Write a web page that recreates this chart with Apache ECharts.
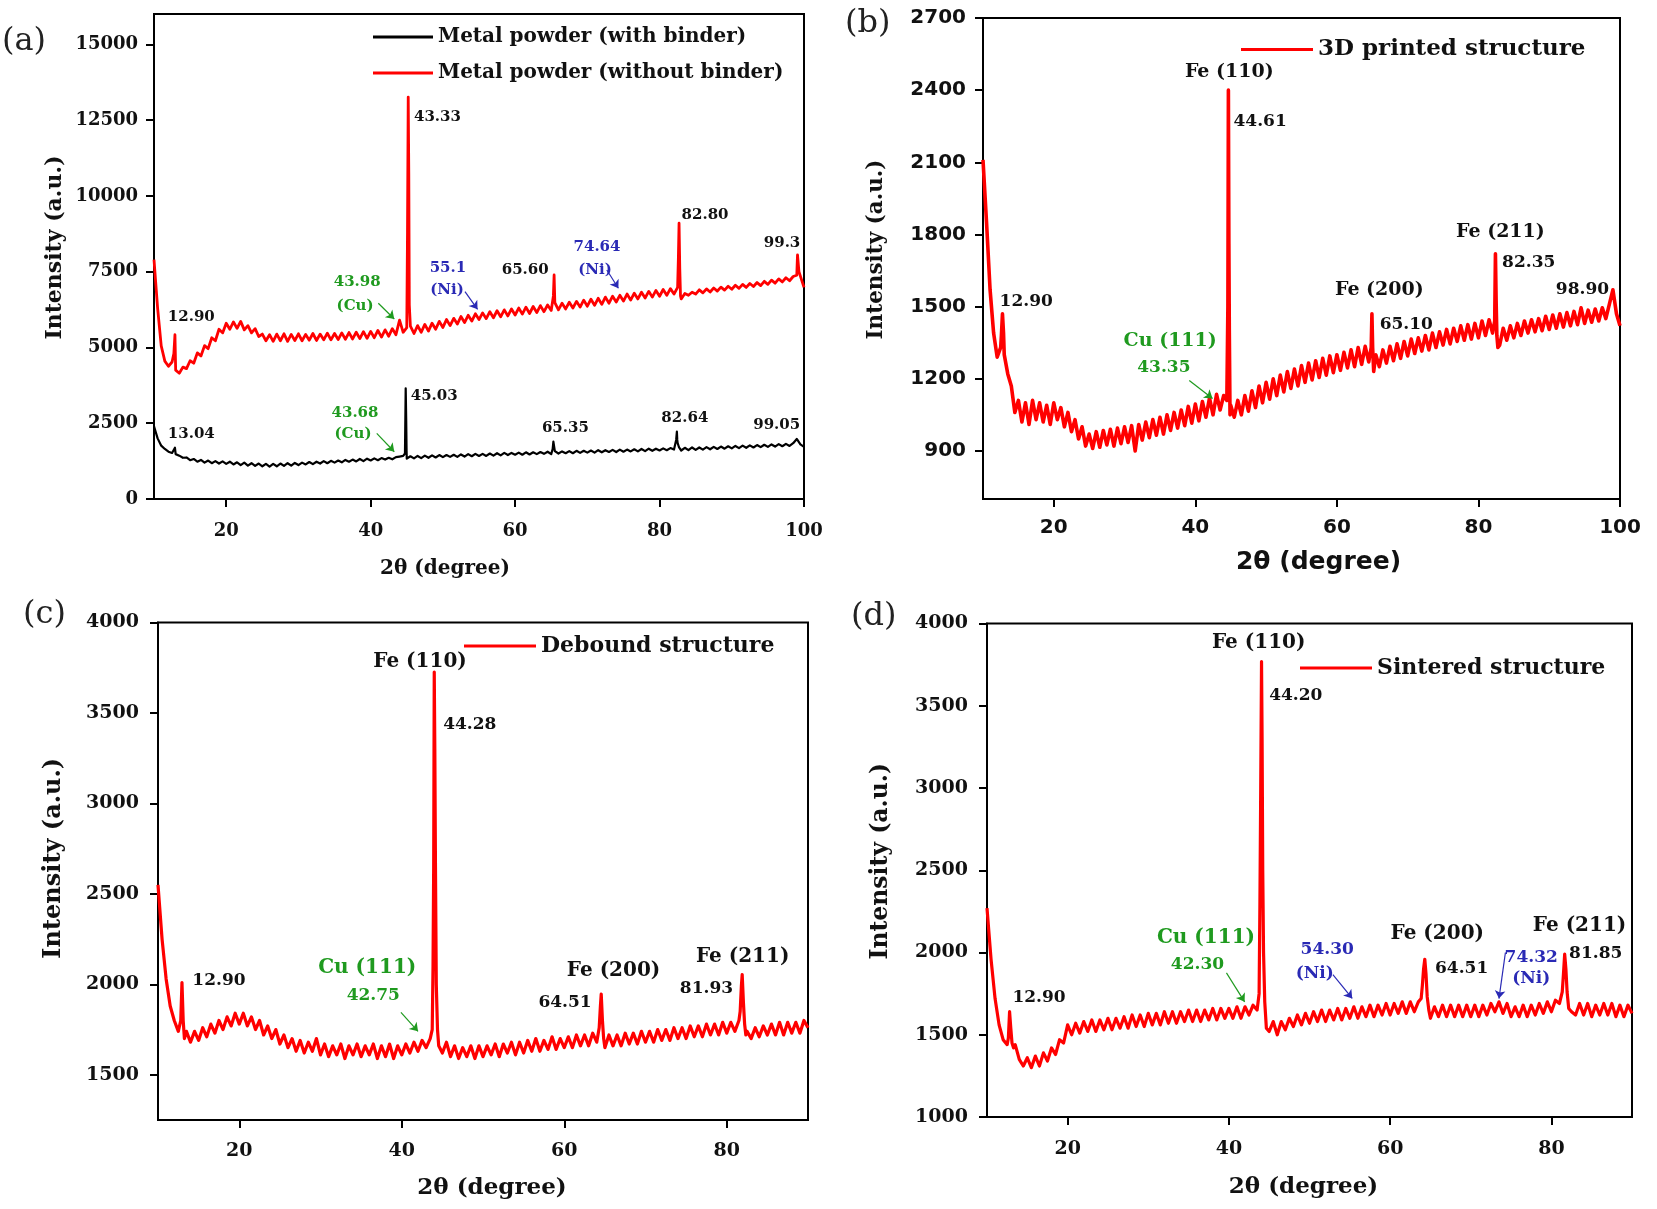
<!DOCTYPE html>
<html><head><meta charset="utf-8">
<script src="https://cdn.jsdelivr.net/npm/echarts@6/dist/echarts.min.js"></script>
<style>html,body{margin:0;padding:0;background:#fff}#c{width:1657px;height:1209px}</style>
</head><body><div id="c"></div>
<script>
// ---------------- DATA ----------------
// 2θ sampling: baseline values every 0.5° starting at 10°, null = covered by peak points
const stepDeg = 0.5;
// (a) Metal powder (without binder)
const noBinderBase = [
7900,6300,5050,4550,4380,4520,4250,4150,4350,4300,
4560,4480,4820,4720,5060,4960,5320,5220,5600,5480,
5800,5600,5840,5630,5860,5580,5720,5480,5620,5360,
5440,5220,5420,5200,5440,5220,5450,5200,5430,5230,
5450,5220,5430,5240,5460,5230,5440,5250,5470,5250,
5460,5260,5480,5270,5490,5280,5500,5290,5520,5300,
5530,5320,5560,5340,5580,5370,5620,5420,5900,5500,
5650,5700,5460,5720,5500,5760,5540,5800,5600,5860,
5660,5920,5720,5960,5770,6020,5820,6060,5870,6110,
5920,6140,5950,6180,5980,6210,6010,6240,6040,6270,
6070,6300,6100,6330,6120,6350,6150,6380,6180,6400,
6220,6480,6240,6460,6270,6490,6300,6520,6330,6560,
6360,6590,6390,6620,6420,6660,6460,6690,6500,6720,
6530,6760,6560,6790,6600,6820,6630,6850,6660,6880,
6690,6910,6720,6940,6760,6980,6600,6780,6720,6820,
6760,6900,6800,6930,6830,6960,6860,6990,6890,7020,
6920,7050,6950,7080,6980,7110,7010,7140,7040,7180,
7080,7220,7120,7260,7160,7300,7200,7340,7380,7450,
6980];
const noBinderPeaks = [[12.75,4800],[12.9,5420],[45.1,8800],[45.2,13260],[45.28,10700],[45.35,6400],
[65.3,6700],[65.4,7390],[82.6,7900],[82.7,9100],[82.8,7600],[82.9,6700],[99.1,8050],[99.3,7500]];
// (a) Metal powder (with binder)
const withBinderBase = [
2400,2000,1760,1650,1560,1520,1480,1430,1360,1370,
1280,1320,1230,1290,1200,1270,1180,1250,1170,1240,
1160,1230,1140,1210,1120,1200,1100,1180,1090,1170,
1080,1160,1070,1160,1080,1170,1090,1180,1100,1190,
1120,1200,1140,1220,1150,1230,1170,1250,1180,1260,
1200,1270,1210,1290,1230,1300,1240,1320,1250,1330,
1270,1340,1280,1350,1300,1360,1310,1380,1400,1420,
1330,1410,1340,1420,1350,1430,1360,1440,1370,1450,
1380,1450,1390,1460,1390,1470,1400,1480,1410,1490,
1420,1490,1420,1500,1430,1510,1440,1520,1450,1520,
1460,1530,1460,1540,1470,1540,1480,1550,1490,1560,
1480,1580,1500,1570,1510,1580,1510,1590,1520,1590,
1530,1600,1530,1610,1540,1610,1550,1620,1550,1630,
1560,1630,1570,1640,1570,1650,1580,1660,1590,1660,
1600,1670,1610,1680,1630,1850,1600,1690,1610,1700,
1620,1700,1630,1710,1640,1720,1650,1730,1660,1740,
1670,1750,1680,1760,1690,1770,1700,1780,1710,1790,
1720,1800,1730,1810,1740,1820,1750,1840,1980,1800,
1720];
const withBinderPeaks = [[12.9,1690],[44.75,1500],[44.85,3650],[44.92,2600],[44.97,1600],
[65.2,1650],[65.3,1890],[82.3,1950],[82.4,2220],[82.45,1950],[82.7,1700]];
// (b) 3D printed structure
const printedBase = [
2110,1850,1570,1390,1290,1330,1300,1220,1170,1060,
1110,1020,1100,1010,1110,1030,1100,1020,1090,1010,
1100,1030,1080,1000,1060,980,1030,950,1000,920,
970,910,980,915,985,925,990,920,995,930,
1000,935,1005,900,1010,945,1020,955,1030,965,
1040,970,1050,985,1060,995,1070,1005,1085,1015,
1095,1025,1105,1040,1120,1050,1135,1070,1130,null,
1090,1040,1110,1050,1130,1065,1150,1080,1170,1100,
1185,1115,1200,1130,1215,1145,1230,1160,1240,1170,
1255,1185,1265,1195,1275,1205,1285,1215,1295,1225,
1300,1235,1310,1245,1320,1250,1330,1260,1335,1270,
null,1300,1250,1320,1265,1335,1275,1345,1285,1355,
1295,1365,1305,1370,1315,1380,1320,1390,1330,1395,
1340,1405,1345,1410,1355,1420,1360,1425,1365,1430,
1370,1440,1380,1445,1390,null,1340,1410,1360,1420,
1370,1430,1380,1440,1390,1445,1395,1450,1400,1460,
1405,1465,1410,1470,1415,1475,1420,1480,1425,1495,
1430,1485,1435,1490,1440,1495,1450,1510,1570,1470,
1420];
const printedPeaks = [[12.6,1380],[12.75,1470],[12.9,1390],[44.45,1110],[44.6,1500],[44.67,2400],
[44.74,1760],[44.8,1400],[44.9,1050],[64.85,1330],[64.95,1470],[65.05,1330],[65.2,1230],
[82.3,1440],[82.4,1720],[82.5,1520],[82.6,1380],[82.75,1330]];
// (c) Debound structure
const deboundBase = [
2550,2250,2030,1880,1800,1740,null,1740,1680,1740,
1690,1760,1710,1780,1730,1800,1750,1820,1770,1840,
1780,1840,1770,1820,1750,1800,1720,1770,1700,1750,
1670,1720,1650,1700,1630,1690,1620,1680,1630,1700,
1610,1670,1600,1660,1610,1670,1590,1660,1610,1670,
1600,1660,1610,1670,1590,1660,1600,1670,1590,1660,
1610,1670,1620,1680,1630,1690,1650,1700,null,null,
1620,1680,1600,1660,1590,1650,1600,1660,1590,1660,
1600,1660,1610,1670,1600,1670,1620,1680,1610,1680,
1620,1690,1630,1700,1630,1690,1640,1710,1640,1700,
1650,1710,1650,1720,1660,1720,1660,1730,1680,null,
1650,1720,1660,1720,1660,1730,1670,1730,1670,1740,
1680,1740,1680,1750,1690,1750,1690,1760,1700,1760,
1700,1770,1710,1770,1710,1780,1720,1780,1720,1790,
1730,1790,1740,1800,null,1740,1700,1760,1710,1770,
1720,1780,1720,1790,1720,1790,1730,1790,1730,1800,
1760];
const deboundPeaks = [[12.8,1800],[12.95,2010],[13.1,1800],[13.25,1700],
[43.75,1750],[43.85,2100],[43.93,2650],[44.0,3726],[44.07,3300],[44.15,2650],[44.25,2000],[44.4,1750],[44.55,1660],
[64.3,1760],[64.45,1880],[64.55,1946],[64.7,1800],[64.85,1700],
[81.65,1850],[81.8,1990],[81.9,2054],[82.05,1900],[82.2,1780],[82.35,1720]];
// (d) Sintered structure
const sinteredBase = [
2270,1960,1720,1560,1470,1440,null,1440,1350,1310,
1360,1300,1370,1310,1390,1340,1420,1380,1470,1450,
1560,1500,1570,1510,1580,1520,1590,1520,1590,1530,
1600,1530,1600,1540,1610,1540,1620,1550,1620,1550,
1630,1560,1630,1560,1640,1570,1640,1570,1640,1580,
1650,1580,1650,1580,1650,1590,1660,1590,1660,1600,
1660,1600,1670,1600,1670,1620,1680,1650,null,null,
1520,1580,1500,1580,1530,1600,1550,1620,1560,1630,
1570,1640,1580,1650,1580,1650,1590,1660,1590,1660,
1600,1670,1600,1670,1610,1680,1610,1680,1620,1690,
1620,1690,1630,1700,1630,1700,1640,1700,null,null,
1600,1670,1610,1680,1610,1680,1610,1680,1610,1680,
1610,1680,1610,1680,1620,1690,1640,1700,1630,1690,
1610,1670,1610,1680,1610,1680,1620,1690,1630,1700,
1640,1710,1690,null,null,1640,1620,1690,1620,1690,
1610,1680,1620,1690,1620,1690,1610,1680,1610,1680,
1630];
const sinteredPeaks = [[12.65,1480],[12.8,1640],[12.95,1540],[13.1,1450],[13.3,1420],
[43.75,1750],[43.85,2300],[43.95,3000],[44.05,3769],[44.12,3300],[44.2,2500],[44.3,2000],[44.45,1700],[44.65,1540],
[63.85,1720],[64.0,1800],[64.15,1900],[64.3,1959],[64.45,1870],[64.6,1730],[64.8,1650],
[81.35,1760],[81.5,1870],[81.65,1990],[81.8,1900],[81.95,1760],[82.15,1660]];

// tick labels
const xTicks100 = [20,40,60,80,100];
const xTicks90 = [20,40,60,80];
const yTicksA = [0,2500,5000,7500,10000,12500,15000];
const yTicksB = [900,1200,1500,1800,2100,2400,2700];
const yTicksC = [1500,2000,2500,3000,3500,4000];
const yTicksD = [1000,1500,2000,2500,3000,3500,4000];

const seriesNames = ['Metal powder (with binder)','Metal powder (without binder)','3D printed structure','Debound structure','Sintered structure'];

// ---------------- ANNOTATIONS (data coords) ----------------
const GREEN = '#1f9a1f', BLUE = '#2a2ab5', BLACK = '#111';
const annA = [
 [49.25,12590,'43.33',BLACK],[15.16,6004,'12.90',BLACK],[38.14,7152,'43.98',GREEN],[37.84,6351,'(Cu)',GREEN],
 [50.7,7607,'55.1',BLUE],[50.57,6875,'(Ni)',BLUE],[61.4,7538,'65.60',BLACK],[71.34,8303,'74.64',BLUE],[71.06,7538,'(Ni)',BLUE],
 [86.3,9349,'82.80',BLACK],[96.96,8445,'99.3',BLACK],
 [48.8,3388,'45.03',BLACK],[15.16,2134,'13.04',BLACK],[37.83,2830,'43.68',GREEN],[37.56,2134,'(Cu)',GREEN],
 [66.96,2342,'65.35',BLACK],[83.5,2656,'82.64',BLACK],[96.22,2448,'99.05',BLACK]
];
const arrA = [[41.06,6456,43.27,5938,GREEN],[53.06,6839,54.8,6258,BLUE],[72.7,7555,74.3,6951,BLUE],[40.84,2167,43.27,1560,GREEN]];
const annB = [
 [44.8,2476,'Fe (110)',BLACK,19],[49.15,2270,'44.61',BLACK,17],[16.1,1522,'12.90',BLACK,17],
 [36.45,1356,'Cu (111)',GREEN,19],[35.55,1245,'43.35',GREEN,17],[66.0,1567,'Fe (200)',BLACK,19],
 [69.8,1426,'65.10',BLACK,17],[83.1,1808,'Fe (211)',BLACK,19],[87.1,1681,'82.35',BLACK,17],[94.7,1571,'98.90',BLACK,17]
];
const arrB = [[39.14,1193,42.43,1118,GREEN]];
const annC = [
 [42.25,3784,'Fe (110)',BLACK,20],[48.37,3433,'44.28',BLACK,17],[17.5,2020,'12.90',BLACK,17],
 [35.75,2090,'Cu (111)',GREEN,20],[36.5,1938,'42.75',GREEN,17],[66.07,2072,'Fe (200)',BLACK,20],
 [60.1,1897,'64.51',BLACK,17],[81.96,2154,'Fe (211)',BLACK,20],[77.5,1979,'81.93',BLACK,17]
];
const arrC = [[39.9,1845,42.0,1740,GREEN]];
const annD = [
 [43.7,3884,'Fe (110)',BLACK,20],[48.3,3563,'44.20',BLACK,17],[16.46,1726,'12.90',BLACK,17],
 [37.16,2092,'Cu (111)',GREEN,20],[36.1,1925,'42.30',GREEN,17],[52.2,2015,'54.30',BLUE,17],[50.65,1874,'(Ni)',BLUE,17],
 [65.85,2111,'Fe (200)',BLACK,20],[68.87,1900,'64.51',BLACK,17],[77.5,1970,'74.32',BLUE,17],[77.5,1841,'(Ni)',BLUE,17],
 [83.5,2162,'Fe (211)',BLACK,20],[85.5,1994,'81.85',BLACK,17]
];
const arrD = [[39.7,1876,41.95,1700,GREEN],[52.9,1866,55.3,1721,BLUE],[74.3,2000,73.5,1720,BLUE]];

// ---------------- BUILD ----------------
function build(start, vals, peaks){
  const pts = [];
  vals.forEach((v,i)=>{ if(v!==null) pts.push([+(start+i*stepDeg).toFixed(2), v]); });
  peaks.forEach(p=>pts.push(p));
  pts.sort((a,b)=>a[0]-b[0]);
  return pts;
}
const SERIF = 'DejaVu Serif', SANS = 'DejaVu Sans';
const RED = '#ff0000';

function mp(list, defSize){
  return {
    symbol:'circle', symbolSize:1, silent:true, itemStyle:{color:'rgba(0,0,0,0)'},
    label:{show:true, position:'inside', fontFamily:SERIF, fontWeight:'bold'},
    data: list.map(a=>({coord:[a[0],a[1]], value:a[2],
      label:{formatter:a[2], color:a[3], fontSize:a[4]||defSize, fontFamily:SERIF, fontWeight:'bold'}}))
  };
}
function ml(list){
  return {
    silent:true, symbol:['none','arrow'], symbolSize:8, label:{show:false},
    lineStyle:{type:'solid', width:1.2},
    data: list.map(a=>[{coord:[a[0],a[1]], lineStyle:{color:a[4]}, itemStyle:{color:a[4]}},{coord:[a[2],a[3]], lineStyle:{color:a[4]}, itemStyle:{color:a[4]}}])
  };
}

const grids = [
  {left:154, top:14, width:650, height:485},
  {left:983, top:18, width:637, height:481},
  {left:158, top:622.5, width:650, height:497.5},
  {left:987, top:623.5, width:645, height:493.5}
].map(g=>Object.assign({show:true, borderColor:'#000', borderWidth:2, backgroundColor:'transparent', containLabel:false}, g));

const plain = v => String(v);
function xAx(gi, min, max, ticks, font, fs, nameFs, nameGap, labMargin, namePad){
  return {type:'value', gridIndex:gi, min, max,
    name:'2θ (degree)', nameLocation:'middle', nameGap,
    nameTextStyle:{fontFamily:font, fontWeight:'bold', fontSize:nameFs, color:'#111', padding:namePad},
    axisLine:{show:true, onZero:false, lineStyle:{color:'#000', width:2}},
    axisTick:{show:true, inside:false, length:8, lineStyle:{color:'#000', width:2}, customValues:ticks},
    axisLabel:{show:true, margin:labMargin, formatter:plain, fontFamily:font, fontWeight:'bold', fontSize:fs, color:'#111', customValues:ticks},
    splitLine:{show:false}};
}
function yAx(gi, min, max, ticks, font, fs, nameFs, nameGap, labMargin, namePad){
  return {type:'value', gridIndex:gi, min, max,
    name:'Intensity (a.u.)', nameLocation:'middle', nameGap, nameRotate:90,
    nameTextStyle:{fontFamily:SERIF, fontWeight:'bold', fontSize:nameFs, color:'#111', padding:namePad},
    axisLine:{show:true, onZero:false, lineStyle:{color:'#000', width:2}},
    axisTick:{show:true, inside:false, length:8, lineStyle:{color:'#000', width:2}, customValues:ticks},
    axisLabel:{show:true, margin:labMargin, formatter:plain, fontFamily:font, fontWeight:'bold', fontSize:fs, color:'#111', customValues:ticks},
    splitLine:{show:false}};
}

const xAxes = [
  xAx(0,10,100,xTicks100,SERIF,18,20,60,23,[0,68,0,0]),
  xAx(1,10,100,xTicks100,SANS,20,25,51,19,[0,0,0,34]),
  xAx(2,10,90,xTicks90,SERIF,19,23,57,22,[0,0,0,18]),
  xAx(3,10,90,xTicks90,SERIF,19,23,59,23,[0,12,0,0])
];
const yAxes = [
  yAx(0,0,16000,yTicksA,SERIF,18,22,88,16,[0,0,0,18]),
  yAx(1,700,2700,yTicksB,SANS,20,21.5,96,17,[0,0,0,18]),
  yAx(2,1250,4000,yTicksC,SERIF,19,24,92,19,[0,0,0,26]),
  yAx(3,1000,4000,yTicksD,SERIF,19,23.5,94,19,[0,0,0,18])
];

function lineSeries(name, gi, data, color, width){
  return {name, type:'line', xAxisIndex:gi, yAxisIndex:gi, data, showSymbol:false, symbol:'none',
    lineStyle:{color, width, join:'round'}, itemStyle:{color}, animation:false, z:3};
}

const sA1 = lineSeries(seriesNames[0],0,build(10,withBinderBase,withBinderPeaks),'#000',2.2);
const sA2 = lineSeries(seriesNames[1],0,build(10,noBinderBase,noBinderPeaks),RED,2.8);
sA2.markPoint = mp(annA,15); sA2.markLine = ml(arrA);
const sB = lineSeries(seriesNames[2],1,build(10,printedBase,printedPeaks),RED,3.6);
sB.markPoint = mp(annB,17); sB.markLine = ml(arrB);
const sC = lineSeries(seriesNames[3],2,build(10,deboundBase,deboundPeaks),RED,3.2);
sC.markPoint = mp(annC,17); sC.markLine = ml(arrC);
const sD = lineSeries(seriesNames[4],3,build(10,sinteredBase,sinteredPeaks),RED,3.2);
sD.markPoint = mp(annD,17); sD.markLine = ml(arrD);

function leg(names, left, top, iw, fs, gap){
  return {data:names, orient:'vertical', left, top, itemWidth:iw, itemHeight:3, icon:'rect', itemGap:gap,
    selectedMode:false, textStyle:{fontFamily:SERIF, fontWeight:'bold', fontSize:fs, color:'#111'}};
}

const panelLabels = [['(a)',2,42],['(b)',845,24],['(c)',23,615],['(d)',851,617]];

const option = {
  backgroundColor:'#fff', animation:false,
  grid: grids, xAxis: xAxes, yAxis: yAxes,
  legend: [
    leg([seriesNames[0],seriesNames[1]],368,22,60,20,16),
    leg([seriesNames[2]],1236,33,72,23,10),
    leg([seriesNames[3]],459,630,72,22,10),
    leg([seriesNames[4]],1295,652,72,22,10)
  ],
  graphic: panelLabels.map(p=>({type:'text', x:p[1], y:p[2], silent:true,
    style:{text:p[0], fontFamily:SERIF, fontSize:32, fill:'#222', verticalAlign:'middle', align:'left'}})),
  series:[sA1,sA2,sB,sC,sD]
};
const chart = echarts.init(document.getElementById('c'), null, {renderer:'canvas'});
chart.setOption(option);
</script></body></html>
